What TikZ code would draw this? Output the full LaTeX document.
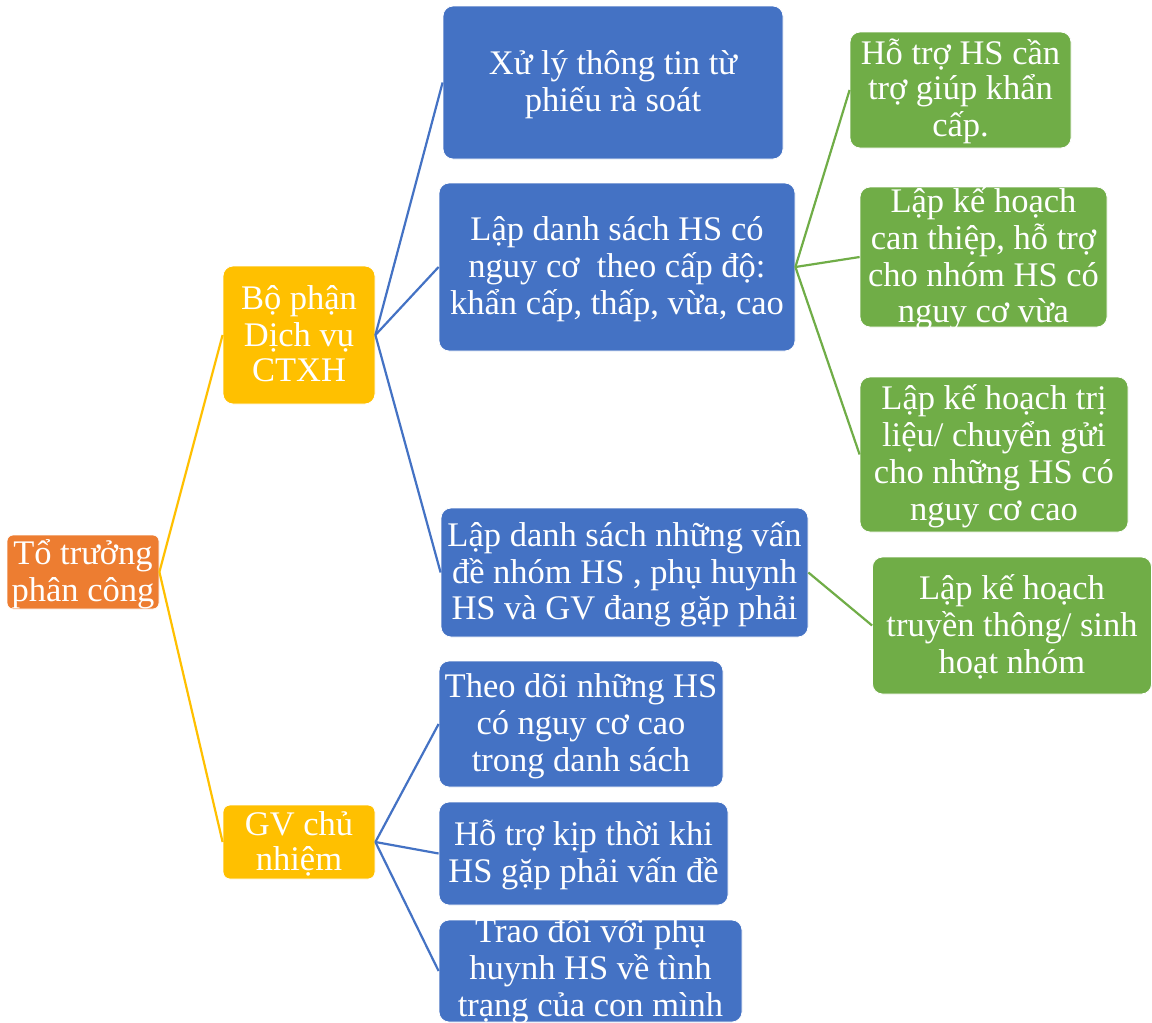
\documentclass[tikz,border=0pt]{standalone}
\usepackage{fontspec}
\setmainfont{Liberation Serif}
% uniform line box: every line is 35.5pt high, baseline 28.5pt below its top
\newcommand\lstrut{\lineskiplimit=-1000pt\relax\vrule width 0pt height 28.5pt depth 7pt\relax}
\definecolor{cOrange}{HTML}{ED7D31}
\definecolor{cYellow}{HTML}{FFC000}
\definecolor{cBlue}{HTML}{4472C4}
\definecolor{cGreen}{HTML}{70AD47}
\tikzset{
  box/.style={rectangle, rounded corners=10pt, draw=white, line width=0.8pt,
    text=white, align=center, inner xsep=0pt, inner ysep=-8pt,
    font=\fontsize{34.5}{35.5}\selectfont},
  rootbox/.style={box, fill=cOrange, rounded corners=6pt},
  ybox/.style={box, fill=cYellow},
  bbox/.style={box, fill=cBlue},
  gbox/.style={box, fill=cGreen},
  yline/.style={draw=cYellow, line width=2.2pt},
  bline/.style={draw=cBlue, line width=2.2pt},
  gline/.style={draw=cGreen, line width=2.2pt},
}
\begin{document}
\begin{tikzpicture}[x=1pt,y=-1pt]
\useasboundingbox[fill=white] (0,0) rectangle (1152,1023);

% first level
\node[rootbox, minimum width=152pt, minimum height=74pt] (root) at (83,572)
  {\lstrut Tổ trưởng\\ \lstrut phân công};

% second level
\node[ybox, minimum width=152pt, minimum height=138pt] (bp) at (299,335)
  {\lstrut Bộ phận\\ \lstrut Dịch vụ\\ \lstrut CTXH};
\node[ybox, minimum width=152pt, minimum height=74pt, rounded corners=7pt] (gv) at (299,842)
  {\lstrut GV chủ\\ \lstrut nhiệm};

% third level, social work unit
\node[bbox, minimum width=340pt, minimum height=153pt] (b1) at (613,82.5)
  {\lstrut Xử lý thông tin từ\\ \lstrut phiếu rà soát};
\node[bbox, minimum width=356pt, minimum height=168pt] (b2) at (617,267)
  {\lstrut Lập danh sách HS có\\ \lstrut nguy cơ\ \ theo cấp độ:\\ \lstrut khẩn cấp, thấp, vừa, cao};
\node[bbox, minimum width=367pt, minimum height=129pt] (b3) at (624.5,572.5)
  {\lstrut Lập danh sách những vấn\\ \lstrut đề nhóm HS , phụ huynh\\ \lstrut HS và GV đang gặp phải};

% third level, homeroom teacher
\node[bbox, minimum width=284pt, minimum height=126pt] (b4) at (581,724)
  {\lstrut Theo dõi những HS\\ \lstrut có nguy cơ cao\\ \lstrut trong danh sách};
\node[bbox, minimum width=289pt, minimum height=103pt] (b5) at (583.5,853.5)
  {\lstrut Hỗ trợ kịp thời khi\\ \lstrut HS gặp phải vấn đề};
% extra depth on the last line lifts this text clear of the lower edge
\node[bbox, minimum width=303pt, minimum height=102pt] (b6) at (590.5,971)
  {\lstrut Trao đổi với phụ\\ \lstrut huynh HS về tình\\ \lstrut\vrule width 0pt depth 11pt\relax trạng của con mình};

% fourth level
\node[gbox, minimum width=221pt, minimum height=116pt] (g1) at (960.5,90)
  {\lstrut Hỗ trợ HS cần\\ \lstrut trợ giúp khẩn\\ \lstrut cấp.};
\node[gbox, minimum width=247pt, minimum height=140pt] (g2) at (983.5,257)
  {\lstrut Lập kế hoạch\\ \lstrut can thiệp, hỗ trợ\\ \lstrut cho nhóm HS có\\ \lstrut nguy cơ vừa};
\node[gbox, minimum width=268pt, minimum height=155pt] (g3) at (994,454.5)
  {\lstrut Lập kế hoạch trị\\ \lstrut liệu/ chuyển gửi\\ \lstrut cho những HS có\\ \lstrut nguy cơ cao};
\node[gbox, minimum width=279pt, minimum height=137pt] (g4) at (1012,625.5)
  {\lstrut Lập kế hoạch\\ \lstrut truyền thông/ sinh\\ \lstrut hoạt nhóm};

% connectors
\draw[yline] (root.east) -- (bp.west);
\draw[yline] (root.east) -- (gv.west);
\draw[bline] (bp.east) -- (b1.west);
\draw[bline] (bp.east) -- (b2.west);
\draw[bline] (bp.east) -- (b3.west);
\draw[bline] (gv.east) -- (b4.west);
\draw[bline] (gv.east) -- (b5.west);
\draw[bline] (gv.east) -- (b6.west);
\draw[gline] (b2.east) -- (g1.west);
\draw[gline] (b2.east) -- (g2.west);
\draw[gline] (b2.east) -- (g3.west);
\draw[gline] (b3.east) -- (g4.west);
\end{tikzpicture}
\end{document}
